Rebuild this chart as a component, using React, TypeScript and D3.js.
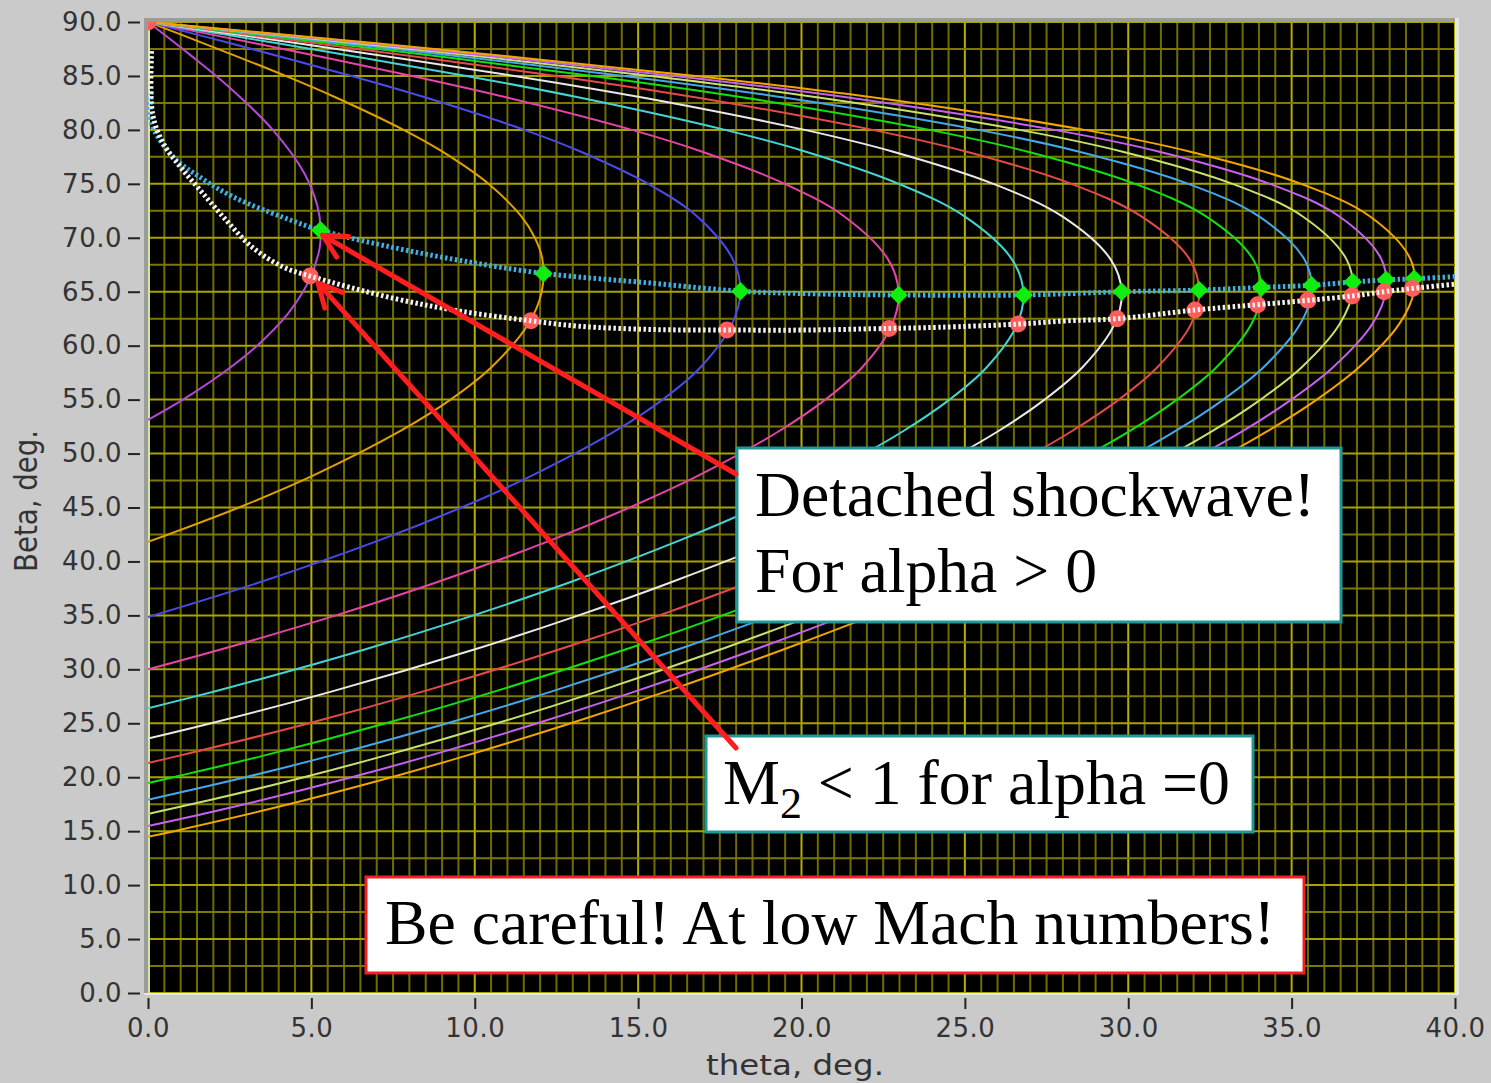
import React, { useRef, useEffect } from "react"
import * as d3 from "d3"

type Pt = [number, number] // [theta, beta] in degrees

// oblique shock theta-beta curves, one per upstream Mach number
const machNumbers = [1.25, 1.5, 1.75, 2.0, 2.25, 2.5, 2.75, 3.0, 3.25, 3.5, 3.75, 4.0]
const curveColors = ["#b44ad4", "#e0a000", "#4a4ae6", "#e444a8", "#44d4d4", "#e8e8e8",
    "#e44a4a", "#12e012", "#44a8ea", "#c8e070", "#c462f2", "#f2a400"]

const m125: Pt[] = [[0, 53.13], [1.07, 55], [2.53, 58], [3.34, 60], [4.29, 63], [4.92, 66], [5.25, 69],
    [5.28, 71], [5.18, 73], [4.78, 76], [3.82, 80], [2.47, 84], [1.27, 87], [0, 90]]
const m150: Pt[] = [[0, 41.81], [2.78, 45], [5.08, 48], [7.67, 52], [9.26, 55], [10.51, 58], [11.64, 62],
    [12.05, 65], [12.07, 68], [11.84, 70], [11.42, 72], [10.42, 75], [9.0, 78], [7.82, 80], [5.75, 83],
    [4.21, 85], [1.72, 88], [0, 90]]
const m175: Pt[] = [[0, 34.85], [3.35, 38], [7.11, 42], [9.59, 45], [11.78, 48], [14.25, 52], [15.75, 55],
    [16.91, 58], [17.87, 62], [18.13, 65], [17.9, 68], [16.8, 72], [15.31, 75], [13.23, 78], [11.52, 80],
    [8.5, 83], [6.23, 85], [2.55, 88], [0, 90]]
const m200: Pt[] = [[0, 30], [2.41, 32], [5.75, 35], [8.77, 38], [12.36, 42], [14.74, 45], [16.87, 48],
    [19.27, 52], [20.73, 55], [21.86, 58], [22.78, 62], [22.97, 65], [22.65, 68], [21.3, 72], [19.49, 75],
    [16.94, 78], [14.81, 80], [10.99, 83], [8.08, 85], [3.31, 88], [0, 90]]
const m225: Pt[] = [[0, 26.39], [2.09, 28], [4.53, 30], [6.81, 32], [9.96, 35], [12.85, 38], [16.31, 42],
    [18.63, 45], [20.7, 48], [23.07, 52], [24.53, 55], [25.67, 58], [26.6, 62], [26.79, 65], [26.44, 68],
    [24.98, 72], [22.98, 75], [20.11, 78], [17.66, 80], [13.2, 83], [9.74, 85], [4.01, 88], [0, 90]]
const m250: Pt[] = [[0, 23.58], [1.93, 25], [5.69, 28], [10.16, 32], [13.18, 35], [15.95, 38], [19.31, 42],
    [21.57, 45], [23.62, 48], [25.98, 52], [27.44, 55], [28.6, 58], [29.58, 62], [29.8, 65], [29.46, 68],
    [27.97, 72], [25.87, 75], [22.78, 78], [20.1, 80], [15.13, 83], [11.21, 85], [4.63, 88], [0, 90]]
const m275: Pt[] = [[0, 21.32], [0.96, 22], [4.93, 25], [8.48, 28], [12.74, 32], [15.65, 35], [18.33, 38],
    [21.61, 42], [23.84, 45], [25.88, 48], [28.23, 52], [29.71, 55], [30.89, 58], [31.92, 62], [32.17, 65],
    [31.88, 68], [30.39, 72], [28.26, 75], [25.03, 78], [22.17, 80], [16.79, 83], [12.49, 85], [5.18, 88], [0, 90]]
const m300: Pt[] = [[0, 19.47], [0.77, 20], [3.54, 22], [7.28, 25], [10.67, 28], [14.77, 32], [17.58, 35],
    [20.2, 38], [23.41, 42], [25.62, 45], [27.63, 48], [30.0, 52], [31.49, 55], [32.7, 58], [33.77, 62],
    [34.07, 65], [33.82, 68], [32.37, 72], [30.21, 75], [26.9, 78], [23.92, 80], [18.23, 83], [13.6, 85],
    [5.66, 88], [0, 90]]
const m325: Pt[] = [[0, 17.92], [2.98, 20], [5.59, 22], [9.16, 25], [12.41, 28], [16.37, 32], [19.11, 35],
    [21.68, 38], [24.84, 42], [27.02, 45], [29.03, 48], [31.4, 52], [32.91, 55], [34.14, 58], [35.26, 62],
    [35.61, 65], [35.39, 68], [33.99, 72], [31.84, 75], [28.47, 78], [25.41, 80], [19.46, 83], [14.57, 85],
    [6.09, 88], [0, 90]]
const m350: Pt[] = [[0, 16.6], [2.06, 18], [4.77, 20], [7.25, 22], [10.68, 25], [13.82, 28], [17.67, 32],
    [20.34, 35], [22.87, 38], [25.99, 42], [28.16, 45], [30.16, 48], [32.53, 52], [34.05, 55], [35.31, 58],
    [36.47, 62], [36.86, 65], [36.68, 68], [35.33, 72], [33.19, 75], [29.8, 78], [26.67, 80], [20.52, 83],
    [15.4, 85], [6.46, 88], [0, 90]]
const m375: Pt[] = [[0, 15.47], [2.27, 17], [6.23, 20], [8.62, 22], [11.91, 25], [14.96, 28], [18.72, 32],
    [21.35, 35], [23.84, 38], [26.93, 42], [29.09, 45], [31.08, 48], [33.46, 52], [34.99, 55], [36.27, 58],
    [37.47, 62], [37.88, 65], [37.75, 68], [36.45, 72], [34.33, 75], [30.92, 78], [27.74, 80], [21.43, 83],
    [16.13, 85], [6.78, 88], [0, 90]]
const m400: Pt[] = [[0, 14.48], [0.8, 15], [3.65, 17], [7.45, 20], [9.74, 22], [12.94, 25], [15.91, 28],
    [19.59, 32], [22.18, 35], [24.63, 38], [27.7, 42], [29.85, 45], [31.84, 48], [34.22, 52], [35.77, 55],
    [37.06, 58], [38.29, 62], [38.74, 65], [38.64, 68], [37.39, 72], [35.29, 75], [31.87, 78], [28.66, 80],
    [22.22, 83], [16.76, 85], [7.06, 88], [0, 90]]

const machCurves = [m125, m150, m175, m200, m225, m250, m275, m300, m325, m350, m375, m400]

// max deflection (detached shock) line and its points
const detachLine: Pt[] = [[0.1, 83.5], [0.11, 80.6], [0.77, 77.5], [1.6, 75.6], [2.6, 73.8], [4.13, 71.9],
    [5.28, 70.7], [7.5, 69.1], [9.55, 67.9], [12.1, 66.7], [15.4, 65.8], [18.13, 65.05], [20.5, 64.8],
    [22.97, 64.7], [26.8, 64.7], [29.8, 65.0], [32.17, 65.15], [34.07, 65.4], [35.61, 65.6], [36.87, 65.9],
    [37.89, 66.1], [38.75, 66.2], [40, 66.4]]
const detachPoints: Pt[] = [[5.28, 70.7], [12.1, 66.7], [18.13, 65.05], [22.97, 64.7], [26.8, 64.7],
    [29.8, 65.0], [32.17, 65.15], [34.07, 65.4], [35.61, 65.6], [36.87, 65.9], [37.89, 66.1], [38.75, 66.2]]

// sonic (M2 = 1) line and its points
const sonicLine: Pt[] = [[0.11, 87.3], [0.14, 81.5], [0.46, 78.8], [0.98, 76.6], [1.6, 74.4], [2.4, 71.6],
    [3.2, 69.1], [4.13, 67.3], [4.96, 66.45], [7.5, 64.4], [9.55, 63.2], [11.72, 62.3], [13.2, 61.8],
    [15.4, 61.5], [17.72, 61.45], [20.2, 61.45], [22.68, 61.6], [24.2, 61.7], [26.63, 62.0], [28.1, 62.3],
    [29.66, 62.5], [32.04, 63.3], [33.96, 63.8], [35.5, 64.2], [36.85, 64.6], [37.83, 65.0], [38.7, 65.3],
    [40, 65.7]]
const sonicPoints: Pt[] = [[0, 90], [4.96, 66.45], [11.72, 62.3], [17.72, 61.45], [22.68, 61.6], [26.63, 62.0],
    [29.66, 62.5], [32.04, 63.3], [33.96, 63.8], [35.5, 64.2], [36.85, 64.6], [37.83, 65.0], [38.7, 65.3]]

const thetaTicks = [0, 5, 10, 15, 20, 25, 30, 35, 40]
const betaTicks = [0, 5, 10, 15, 20, 25, 30, 35, 40, 45, 50, 55, 60, 65, 70, 75, 80, 85, 90]

const W = 1491, H = 1083
const plot = { left: 148, right: 1455, top: 22, bottom: 993 }

const App = () => {
    const element = useRef<SVGSVGElement>(null)

    useEffect(() => {
        const svg = d3.select(element.current)
        svg.selectAll("*").remove()

        const x = d3.scaleLinear().domain([0, 40]).range([plot.left, plot.right])
        const y = d3.scaleLinear().domain([0, 90]).range([plot.bottom, plot.top])

        svg.append("rect").attr("width", W).attr("height", H).attr("fill", "#cacaca")

        // bevelled frame round the plot
        svg.append("rect").attr("x", plot.left - 4).attr("y", plot.top - 4)
            .attr("width", plot.right - plot.left + 8).attr("height", plot.bottom - plot.top + 6)
            .attr("fill", "#e6e6e6")
        svg.append("rect").attr("x", plot.left - 4).attr("y", plot.top - 4)
            .attr("width", plot.right - plot.left + 4).attr("height", plot.bottom - plot.top + 4)
            .attr("fill", "#9c9c9c")
        svg.append("rect").attr("x", plot.left).attr("y", plot.top)
            .attr("width", plot.right - plot.left).attr("height", plot.bottom - plot.top)
            .attr("fill", "#000")

        svg.append("clipPath").attr("id", "plotClip")
            .append("rect").attr("x", plot.left).attr("y", plot.top)
            .attr("width", plot.right - plot.left).attr("height", plot.bottom - plot.top)

        const g = svg.append("g").attr("clip-path", "url(#plotClip)")

        // grid
        d3.range(0, 40.001, 0.5).forEach(t => {
            const major = t % 5 === 0
            g.append("line").attr("x1", x(t)).attr("x2", x(t)).attr("y1", plot.top).attr("y2", plot.bottom)
                .attr("stroke", major ? "#b4ae00" : "#6e6c00").attr("stroke-width", 2)
        })
        d3.range(0, 90.001, 2.5).forEach(b => {
            const major = b % 5 === 0
            g.append("line").attr("x1", plot.left).attr("x2", plot.right).attr("y1", y(b)).attr("y2", y(b))
                .attr("stroke", major ? "#a8a200" : "#7c7800").attr("stroke-width", 2)
        })
        g.append("line").attr("x1", plot.left + 1).attr("x2", plot.left + 1)
            .attr("y1", plot.top).attr("y2", plot.bottom)
            .attr("stroke", "#cfe89a").attr("stroke-width", 2)

        const line = d3.line<Pt>()
            .x(d => x(d[0]))
            .y(d => y(d[1]))
            .curve(d3.curveCatmullRom.alpha(0.5))

        machCurves.forEach((c, i) => {
            g.append("path").datum(c)
                .attr("fill", "none")
                .attr("stroke", curveColors[i])
                .attr("stroke-width", 2)
                .attr("d", line)
                .attr("data-mach", machNumbers[i])
        })

        g.append("path").datum(detachLine)
            .attr("fill", "none").attr("stroke", "#3fb0e6")
            .attr("stroke-width", 5).attr("stroke-dasharray", "2.5 2.5")
            .attr("d", line)

        const diamond = d3.symbol().type(d3.symbolSquare).size(170)
        g.selectAll(".detach").data(detachPoints).join("path")
            .attr("d", diamond)
            .attr("transform", d => `translate(${x(d[0])},${y(d[1])}) rotate(45)`)
            .attr("fill", "#10ee10")

        g.selectAll(".sonic").data(sonicPoints).join("circle")
            .attr("cx", d => x(d[0])).attr("cy", d => y(d[1])).attr("r", 8.5)
            .attr("fill", "#ff5c5c")

        g.append("path").datum(sonicLine)
            .attr("fill", "none").attr("stroke", "#f4f4f4")
            .attr("stroke-width", 5).attr("stroke-dasharray", "2.5 2.5")
            .attr("d", line)

        // axes
        const yAxis = svg.append("g").attr("transform", `translate(${plot.left - 8},0)`)
            .call(d3.axisLeft(y).tickValues(betaTicks).tickFormat(d3.format(".1f")).tickSize(12).tickPadding(6))
        yAxis.select(".domain").remove()
        yAxis.selectAll("line").attr("stroke", "#222").attr("stroke-width", 2)
        yAxis.selectAll("text").attr("font-size", 26).attr("font-family", "DejaVu Sans").attr("fill", "#333")
            .attr("letter-spacing", 0.5)

        const xAxis = svg.append("g").attr("transform", `translate(0,${plot.bottom + 5})`)
            .call(d3.axisBottom(x).tickValues(thetaTicks).tickFormat(d3.format(".1f")).tickSize(11))
        xAxis.select(".domain").remove()
        xAxis.selectAll("line").attr("stroke", "#222").attr("stroke-width", 2)
        xAxis.selectAll("text").attr("font-size", 26).attr("font-family", "DejaVu Sans").attr("fill", "#333")
            .attr("letter-spacing", 0.5).attr("y", 39).attr("dy", 0)

        svg.append("text").attr("x", 795).attr("y", 1075)
            .attr("text-anchor", "middle").attr("font-family", "DejaVu Sans").attr("font-size", 29)
            .attr("fill", "#333").attr("textLength", 178).attr("lengthAdjust", "spacingAndGlyphs")
            .text("theta, deg.")
        svg.append("text").attr("transform", `translate(37,501) rotate(-90)`)
            .attr("text-anchor", "middle").attr("font-family", "DejaVu Sans").attr("font-size", 32)
            .attr("fill", "#333").attr("textLength", 142).attr("lengthAdjust", "spacingAndGlyphs")
            .text("Beta, deg.")

        // annotation boxes
        const serif = "Liberation Serif, Times New Roman, serif"
        const box = (bx: number, by: number, bw: number, bh: number, stroke: string) =>
            svg.append("rect").attr("x", bx).attr("y", by).attr("width", bw).attr("height", bh)
                .attr("fill", "#fff").attr("stroke", stroke).attr("stroke-width", 3)
        const label = (tx: number, ty: number, len: number, s: string) =>
            svg.append("text").attr("x", tx).attr("y", ty).attr("font-family", serif).attr("font-size", 64)
                .attr("textLength", len).attr("lengthAdjust", "spacingAndGlyphs").text(s)

        box(737, 448, 604, 174, "#1f9898")
        label(755, 516, 560, "Detached shockwave!")
        label(755, 592, 342, "For alpha > 0")

        box(706, 736, 547, 96, "#1f9898")
        const t2 = svg.append("text").attr("x", 723).attr("y", 804).attr("font-family", serif)
            .attr("font-size", 64).style("white-space", "pre")
        t2.append("tspan").text("M")
        t2.append("tspan").attr("font-size", 44).attr("dy", 14).text("2")
        t2.append("tspan").attr("dy", -14).attr("textLength", 428).attr("lengthAdjust", "spacingAndGlyphs")
            .text(" < 1 for alpha =0")

        box(366, 877, 938, 96, "#ee2222")
        label(385, 944, 890, "Be careful! At low Mach numbers!")

        // arrows pointing at the M = 1.25 markers
        const arrow = (x1: number, y1: number, x2: number, y2: number) => {
            const a = Math.atan2(y1 - y2, x1 - x2)
            const len = 26, spread = 0.47
            const p = d3.path()
            p.moveTo(x1, y1); p.lineTo(x2, y2)
            p.moveTo(x2 + len * Math.cos(a - spread), y2 + len * Math.sin(a - spread))
            p.lineTo(x2, y2)
            p.lineTo(x2 + len * Math.cos(a + spread), y2 + len * Math.sin(a + spread))
            svg.append("path").attr("d", p.toString()).attr("fill", "none")
                .attr("stroke", "#ff1e1e").attr("stroke-width", 5)
                .attr("stroke-linecap", "round").attr("stroke-linejoin", "round")
        }
        arrow(736, 474, x(detachPoints[0][0]) + 2, y(detachPoints[0][1]) + 5)
        arrow(736, 748, x(sonicPoints[1][0]) + 8, y(sonicPoints[1][1]) + 7)
    }, [])

    return (
        <svg ref={element} width={W} height={H}
            style={{ position: "absolute", left: 0, top: 0, display: "block" }} />
    )
}

export default App
